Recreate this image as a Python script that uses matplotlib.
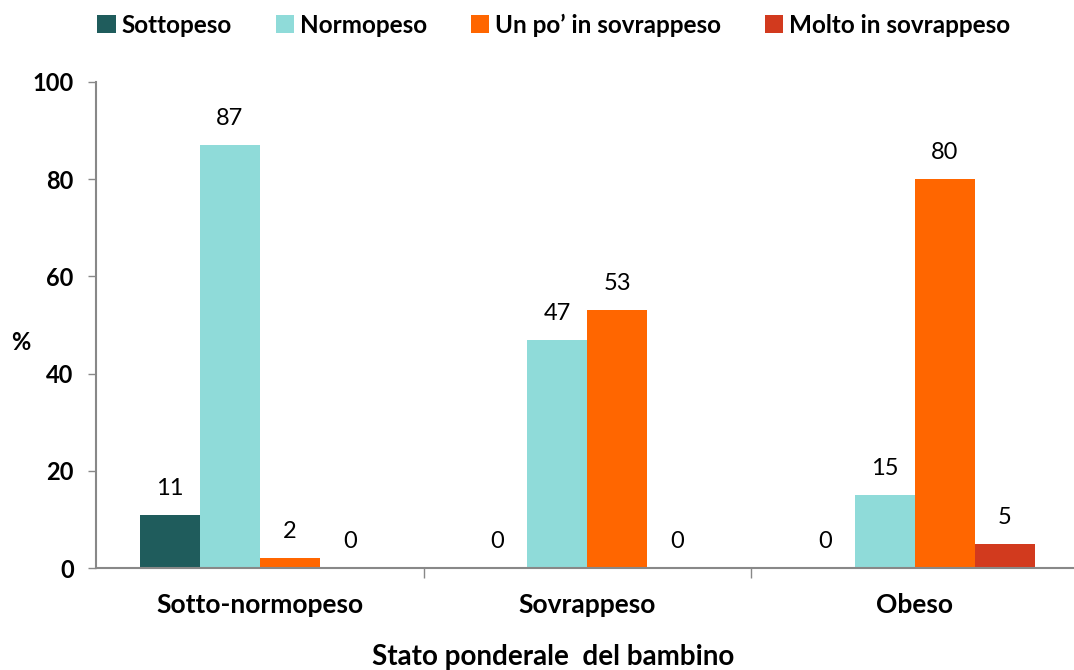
import matplotlib.pyplot as plt
import numpy as np

plt.rcParams['font.family'] = ['Lato', 'DejaVu Sans']

# data
categories = ['Sotto-normopeso', 'Sovrappeso', 'Obeso']
series = ['Sottopeso', 'Normopeso', 'Un po\u2019 in sovrappeso', 'Molto in sovrappeso']
values = {
    'Sottopeso': [11, 0, 0],
    'Normopeso': [87, 47, 15],
    'Un po\u2019 in sovrappeso': [2, 53, 80],
    'Molto in sovrappeso': [0, 0, 5],
}
colors = ['#1F5C5C', '#8FDBD9', '#FF6600', '#D23A1E']

fig = plt.figure(figsize=(10.74, 6.70), dpi=100)
ax = fig.add_axes([96 / 1074, 1 - 568 / 670, 1 - 96 / 1074, (568 - 82) / 670])

x = np.arange(len(categories))
w = 0.183
for i, name in enumerate(series):
    pos = x + (i - 1.5) * w
    ax.bar(pos, values[name], w, color=colors[i], label=name, linewidth=0)
    for xp, v in zip(pos, values[name]):
        ax.annotate(str(v), (xp, v), xytext=(0, 11.5), textcoords='offset points',
                    ha='center', va='bottom', fontsize=17, color='black')

ax.set_xlim(-0.5, -0.5 + 978 / 327.5)
ax.set_ylim(0, 100)
ax.set_yticks([0, 20, 40, 60, 80, 100])
ax.tick_params(axis='y', labelsize=17, length=6, width=1, color='#888888', pad=10)
for lab in ax.get_yticklabels():
    lab.set_fontweight('bold')

ax.set_xticks([0.5, 1.5])
ax.set_xticklabels([])
ax.set_xticks(x, minor=True)
ax.set_xticklabels(categories, minor=True, fontsize=19, fontweight='bold')
ax.tick_params(axis='x', which='major', length=7, width=1, color='#888888')
ax.tick_params(axis='x', which='minor', length=0, pad=18)

for s in ['top', 'right']:
    ax.spines[s].set_visible(False)
for s in ['left', 'bottom']:
    ax.spines[s].set_color('#888888')
    ax.spines[s].set_linewidth(1.5)

fig.text(21 / 1074, 1 - 343 / 670, '%', fontsize=17, fontweight='bold', ha='center', va='center')
fig.text(553 / 1074, 1 - 657 / 670, 'Stato ponderale  del bambino', fontsize=20,
         fontweight='bold', ha='center', va='center')

ax.legend(loc='upper left', bbox_to_anchor=(90 / 1074, 1 - 6 / 670), bbox_transform=fig.transFigure,
          ncol=4, frameon=False, prop={'weight': 'bold', 'size': 17.5},
          handlelength=0.75, handleheight=0.75, handletextpad=0.25, columnspacing=1.8,
          borderaxespad=0.0, borderpad=0.3)

fig.savefig('out.png', dpi=100)
